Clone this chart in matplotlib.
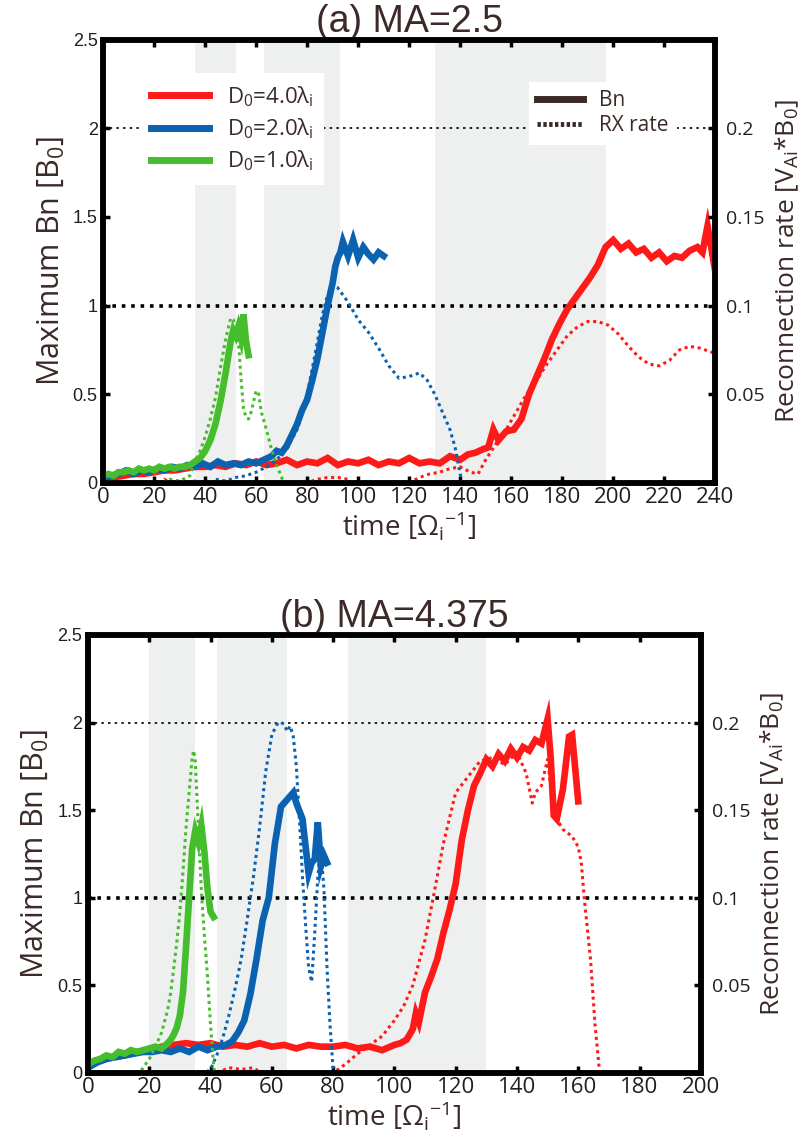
import matplotlib.pyplot as plt
from matplotlib.lines import Line2D

plt.rcParams["font.family"] = ["Open Sans", "DejaVu Sans"]
plt.rcParams["mathtext.fontset"] = "custom"
plt.rcParams["mathtext.rm"] = "Open Sans"
plt.rcParams["mathtext.it"] = "Open Sans:italic"
plt.rcParams["mathtext.bf"] = "Open Sans:bold"

RED = "#ff1a1a"
BLUE = "#0a62b0"
GREEN = "#46bd2c"
SHADE = "#eef0ef"
BROWN = "#3b2a27"
NARROW = ["Liberation Sans", "DejaVu Sans"]

# ---- panel (a) MA=2.5 ----
a_shades = [(36, 52), (63, 93), (130, 197)]

green_a_t = [0, 2, 4, 6, 8, 10, 12, 14, 16, 18, 20, 22, 24, 26, 28, 30, 32, 34, 36, 38,
             40, 42, 44, 46, 48, 50, 51, 52, 53, 54, 55, 56, 57]
green_a_bn = [0.04, 0.05, 0.04, 0.06, 0.06, 0.07, 0.06, 0.08, 0.07, 0.08, 0.07, 0.09, 0.08,
              0.09, 0.08, 0.09, 0.09, 0.10, 0.12, 0.14, 0.18, 0.24, 0.33, 0.46, 0.62, 0.80,
              0.86, 0.83, 0.88, 0.82, 0.95, 0.80, 0.72]
green_a_rt = [14, 18, 22, 26, 30, 34, 36, 38, 40, 42, 44, 46, 48, 50, 51, 52, 53, 54, 55,
              56, 57, 58, 60, 61, 62, 64, 66, 68, 70, 72]
green_a_rx = [-0.002, 0.001, -0.001, 0.002, 0.001, 0.004, 0.012, 0.018, 0.026, 0.036, 0.048,
              0.065, 0.081, 0.093, 0.092, 0.088, 0.080, 0.060, 0.042, 0.037, 0.036, 0.040,
              0.052, 0.050, 0.040, 0.030, 0.019, 0.010, 0.003, -0.005]

blue_a_t = [0, 3, 6, 9, 12, 15, 18, 21, 24, 27, 30, 33, 36, 39, 42, 45, 48, 51, 54, 57,
            60, 63, 66, 68, 70, 72, 74, 76, 78, 80, 82, 84, 86, 88, 90, 91, 92, 93, 94, 96,
            98, 100, 102, 104, 106, 108, 110]
blue_a_bn = [0.02, 0.04, 0.05, 0.07, 0.05, 0.07, 0.06, 0.08, 0.07, 0.09, 0.08, 0.10, 0.09,
             0.11, 0.09, 0.12, 0.10, 0.11, 0.10, 0.12, 0.11, 0.13, 0.15, 0.18, 0.17, 0.21,
             0.27, 0.33, 0.41, 0.47, 0.58, 0.70, 0.85, 1.00, 1.13, 1.22, 1.27, 1.30, 1.36,
             1.28, 1.37, 1.27, 1.33, 1.29, 1.26, 1.30, 1.28]
blue_a_rt = [28, 32, 36, 40, 44, 48, 52, 56, 60, 64, 68, 72, 76, 80, 83, 86, 88, 90, 92, 94,
             96, 98, 100, 104, 108, 112, 116, 120, 124, 127, 130, 133, 136, 138, 140, 142]
blue_a_rx = [-0.004, 0.000, 0.001, -0.002, 0.002, 0.001, 0.003, 0.004, 0.006, 0.009, 0.013,
             0.019, 0.030, 0.050, 0.072, 0.095, 0.106, 0.111, 0.110, 0.106, 0.102, 0.097,
             0.092, 0.085, 0.076, 0.066, 0.059, 0.060, 0.062, 0.058, 0.050, 0.040, 0.030,
             0.020, 0.005, -0.010]

red_a_t = [0, 4, 8, 12, 16, 20, 24, 28, 32, 36, 40, 44, 48, 52, 56, 60, 64, 68, 72, 76,
           80, 84, 88, 92, 96, 100, 104, 108, 112, 116, 120, 124, 128, 132, 136, 140,
           143, 146, 149, 151, 153, 155, 158, 161, 164, 167, 170, 173, 176, 179, 182, 185,
           188, 191, 194, 197, 200, 203, 206, 209, 212, 215, 218, 221, 224, 227, 230, 233,
           235, 237, 239, 240]
red_a_bn = [0.02, 0.03, 0.04, 0.05, 0.05, 0.06, 0.07, 0.07, 0.08, 0.09, 0.09, 0.10, 0.09,
            0.11, 0.10, 0.12, 0.10, 0.11, 0.13, 0.10, 0.12, 0.11, 0.14, 0.10, 0.12, 0.11,
            0.13, 0.10, 0.12, 0.11, 0.14, 0.11, 0.12, 0.11, 0.15, 0.13, 0.16, 0.17, 0.19,
            0.20, 0.30, 0.24, 0.29, 0.30, 0.36, 0.50, 0.60, 0.70, 0.81, 0.90, 0.98, 1.04,
            1.10, 1.16, 1.23, 1.33, 1.37, 1.32, 1.35, 1.30, 1.32, 1.27, 1.30, 1.25, 1.28,
            1.27, 1.31, 1.33, 1.30, 1.45, 1.28, 1.38]
red_a_rt = [20, 24, 28, 32, 36, 40, 44, 48, 52, 56, 60, 64, 68, 72, 76, 80, 84, 88, 92, 96,
            100, 104, 108, 112, 116, 120, 124, 128, 132, 136, 140, 144, 147, 150, 154, 158,
            162, 166, 170, 174, 178, 182, 186, 190, 194, 198, 202, 206, 210, 214, 218, 222,
            226, 230, 234, 238, 240]
red_a_rx = [-0.003, 0.002, -0.002, 0.001, -0.004, 0.001, -0.003, 0.000, -0.005, 0.000,
            -0.004, -0.002, -0.006, -0.010, -0.005, 0.000, 0.002, 0.003, 0.003, 0.002,
            -0.002, -0.008, -0.015, -0.012, -0.005, 0.000, 0.003, 0.005, 0.006, 0.008,
            0.009, 0.006, 0.005, 0.013, 0.022, 0.030, 0.040, 0.050, 0.058, 0.067, 0.075,
            0.083, 0.088, 0.091, 0.091, 0.089, 0.084, 0.077, 0.071, 0.067, 0.066, 0.069,
            0.075, 0.077, 0.076, 0.074, 0.073]

# ---- panel (b) MA=4.375 ----
b_shades = [(20, 35), (42, 65), (85, 130)]

green_b_t = [0, 2, 4, 6, 8, 10, 12, 14, 16, 18, 20, 22, 24, 26, 27, 28, 29, 30, 31, 32,
             33, 34, 35, 36, 37, 38, 39, 40, 41]
green_b_bn = [0.05, 0.07, 0.08, 0.10, 0.09, 0.12, 0.11, 0.13, 0.12, 0.13, 0.14, 0.15, 0.14,
              0.17, 0.19, 0.22, 0.26, 0.33, 0.46, 0.72, 1.00, 1.28, 1.38, 1.32, 1.41, 1.26,
              1.05, 0.92, 0.89]
green_b_rt = [8, 12, 16, 18, 20, 22, 24, 26, 27, 28, 29, 30, 31, 32, 33, 34, 34.5, 35, 36,
              37, 38, 39, 40, 41, 42]
green_b_rx = [-0.003, 0.000, -0.002, 0.003, 0.008, 0.015, 0.023, 0.036, 0.046, 0.060, 0.075,
              0.092, 0.115, 0.140, 0.160, 0.180, 0.184, 0.178, 0.141, 0.104, 0.078, 0.055,
              0.027, 0.005, -0.010]

blue_b_t = [0, 3, 6, 9, 12, 15, 18, 21, 24, 27, 30, 33, 36, 39, 42, 45, 47, 49, 51, 53,
            55, 57, 59, 61, 63, 65, 67, 68, 70, 72, 73, 74, 75, 76, 77, 78]
blue_b_bn = [0.03, 0.06, 0.08, 0.09, 0.10, 0.11, 0.12, 0.12, 0.13, 0.12, 0.14, 0.12, 0.15,
             0.13, 0.15, 0.16, 0.18, 0.23, 0.30, 0.45, 0.65, 0.87, 1.00, 1.31, 1.52, 1.56,
             1.60, 1.54, 1.45, 1.14, 1.20, 1.22, 1.43, 1.18, 1.24, 1.20]
blue_b_rt = [24, 28, 32, 36, 38, 40, 42, 44, 46, 48, 50, 52, 54, 56, 58, 60, 62, 63, 64, 65,
             66, 67, 68, 69, 70, 71, 72, 73, 74, 75, 76, 77, 78, 79, 80, 81]
blue_b_rx = [-0.005, -0.002, 0.000, 0.001, 0.000, 0.002, 0.010, 0.020, 0.033, 0.048, 0.065,
             0.088, 0.112, 0.140, 0.172, 0.193, 0.200, 0.200, 0.199, 0.195, 0.198, 0.192,
             0.175, 0.145, 0.112, 0.085, 0.060, 0.052, 0.080, 0.112, 0.128, 0.105, 0.060,
             0.027, 0.002, -0.010]

red_b_t = [0, 4, 8, 12, 16, 20, 24, 28, 32, 36, 40, 44, 48, 52, 56, 60, 64, 68, 72, 76,
           80, 84, 88, 92, 96, 100, 102, 104, 106, 107, 108, 110, 112, 114, 116, 118, 120,
           122, 124, 126, 128, 130, 132, 134, 136, 138, 140, 142, 144, 146, 148, 150, 151,
           152, 153, 155, 157, 158, 160]
red_b_bn = [0.04, 0.07, 0.09, 0.10, 0.12, 0.13, 0.15, 0.16, 0.17, 0.16, 0.17, 0.15, 0.16,
            0.15, 0.17, 0.15, 0.16, 0.14, 0.16, 0.15, 0.15, 0.16, 0.14, 0.15, 0.13, 0.16,
            0.17, 0.19, 0.25, 0.34, 0.29, 0.46, 0.55, 0.65, 0.80, 0.93, 1.08, 1.33, 1.50,
            1.64, 1.71, 1.79, 1.75, 1.82, 1.78, 1.85, 1.80, 1.86, 1.84, 1.90, 1.88, 2.02,
            1.80, 1.47, 1.45, 1.62, 1.92, 1.93, 1.55]
red_b_rt = [2, 6, 10, 14, 18, 22, 26, 30, 34, 38, 42, 46, 50, 54, 58, 62, 66, 70, 74, 78,
            80, 84, 88, 92, 96, 100, 103, 106, 110, 113, 116, 120, 124, 128, 132, 136, 140,
            143, 145, 146, 148, 150, 152, 155, 158, 160, 161, 162, 164, 165.5, 167, 168]
red_b_rx = [-0.004, -0.002, 0.000, -0.003, 0.001, -0.002, 0.000, -0.004, -0.002, -0.005,
            0.000, 0.003, 0.002, 0.003, -0.002, -0.006, -0.010, -0.015, -0.010, -0.004,
            0.000, 0.005, 0.011, 0.016, 0.021, 0.030, 0.038, 0.050, 0.076, 0.103, 0.131,
            0.160, 0.169, 0.178, 0.180, 0.176, 0.183, 0.171, 0.154, 0.160, 0.164, 0.179,
            0.148, 0.139, 0.135, 0.129, 0.120, 0.099, 0.065, 0.027, 0.000, -0.020]

bn_ticks = [0, 0.5, 1, 1.5, 2, 2.5]
bn_labels = ["0", "0.5", "1", "1.5", "2", "2.5"]
rx_ticks = [0.05, 0.1, 0.15, 0.2]
rx_labels = ["0.05", "0.1", "0.15", "0.2"]


def draw_panel(ax, title, xmax, shades, runs, with_legend):
    for x0, x1 in shades:
        ax.axvspan(x0, x1, color=SHADE, lw=0, zorder=0)
    ax.axhline(1, color="black", ls=(0, (1, 1.6)), lw=2.6, zorder=1)
    ax.axhline(2, color="black", ls=(0, (1.5, 2.5)), lw=1.2, zorder=1)

    ax2 = ax.twinx()
    for color, t, bn, rt, rx in runs:
        ax2.plot(rt, rx, color=color, ls=(0, (1, 1.2)), lw=2.2, zorder=2)
    for color, t, bn, rt, rx in runs:
        ax.plot(t, bn, color=color, lw=4.8, zorder=3, solid_joinstyle="miter")

    ax.set_xlim(0, xmax)
    ax.set_ylim(0, 2.5)
    ax2.set_ylim(0, 0.25)
    ax.set_xticks(range(0, xmax + 1, 20))
    ax.set_yticks(bn_ticks)
    ax.set_yticklabels(bn_labels, family=NARROW, fontsize=13, color="#231f20")
    ax2.set_yticks(rx_ticks)
    ax2.set_yticklabels(rx_labels, fontsize=14, color="#231f20")
    for lab in ax.get_xticklabels():
        lab.set_fontsize(16)
        lab.set_color("#231f20")

    ax.tick_params(axis="x", direction="in", top=True, length=5, width=2.5, pad=3)
    ax.tick_params(axis="y", direction="in", length=5, width=2.5, pad=4)
    ax2.tick_params(axis="y", direction="in", length=5, width=2.5, pad=8)
    for a in (ax, ax2):
        for sp in a.spines.values():
            sp.set_linewidth(4)
            sp.set_color("black")

    ax.set_title(title, family=NARROW, fontsize=27, color=BROWN, pad=4)
    ax.set_xlabel("time [Ω$_{\\mathrm{i}}$$^{\\mathrm{-1}}$]", fontsize=20, color=BROWN,
                  labelpad=1)
    ax.set_ylabel("Maximum Bn [B$_0$]", fontsize=22, color=BROWN, labelpad=5)
    ax2.set_ylabel("Reconnection rate [V$_{\\mathrm{Ai}}$*B$_0$]", fontsize=19,
                   color=BROWN, labelpad=6)

    if with_legend:
        h1 = [Line2D([], [], color=c, lw=5) for c in (RED, BLUE, GREEN)]
        l1 = ["D$_0$=4.0λ$_{\\mathrm{i}}$", "D$_0$=2.0λ$_{\\mathrm{i}}$",
              "D$_0$=1.0λ$_{\\mathrm{i}}$"]
        leg1 = ax2.legend(h1, l1, loc="upper left", bbox_to_anchor=(0.06, 0.925),
                          fontsize=16, handlelength=2.6, labelspacing=0.35,
                          borderpad=0.5, fancybox=False, framealpha=1,
                          edgecolor="none", labelcolor=BROWN, borderaxespad=0)
        ax2.add_artist(leg1)
        h2 = [Line2D([], [], color=BROWN, lw=5),
              Line2D([], [], color=BROWN, lw=3.5, ls=(0, (0.7, 0.5)))]
        ax2.legend(h2, ["Bn", "RX rate"], loc="upper left",
                   bbox_to_anchor=(0.695, 0.905), fontsize=15, handlelength=2.2,
                   labelspacing=0.2, borderpad=0.4, fancybox=False, framealpha=1,
                   edgecolor="none", labelcolor=BROWN, borderaxespad=0)


fig = plt.figure(figsize=(8, 11.36), dpi=100)
ax_a = fig.add_axes([0.129, 0.575, 0.765, 0.390])
ax_b = fig.add_axes([0.110, 0.0555, 0.766, 0.3856])

draw_panel(ax_a, "(a) MA=2.5", 240, a_shades,
           [(RED, red_a_t, red_a_bn, red_a_rt, red_a_rx),
            (BLUE, blue_a_t, blue_a_bn, blue_a_rt, blue_a_rx),
            (GREEN, green_a_t, green_a_bn, green_a_rt, green_a_rx)],
           True)
draw_panel(ax_b, "(b) MA=4.375", 200, b_shades,
           [(RED, red_b_t, red_b_bn, red_b_rt, red_b_rx),
            (BLUE, blue_b_t, blue_b_bn, blue_b_rt, blue_b_rx),
            (GREEN, green_b_t, green_b_bn, green_b_rt, green_b_rx)],
           False)

fig.savefig("out.png", dpi=100)
plt.close(fig)
